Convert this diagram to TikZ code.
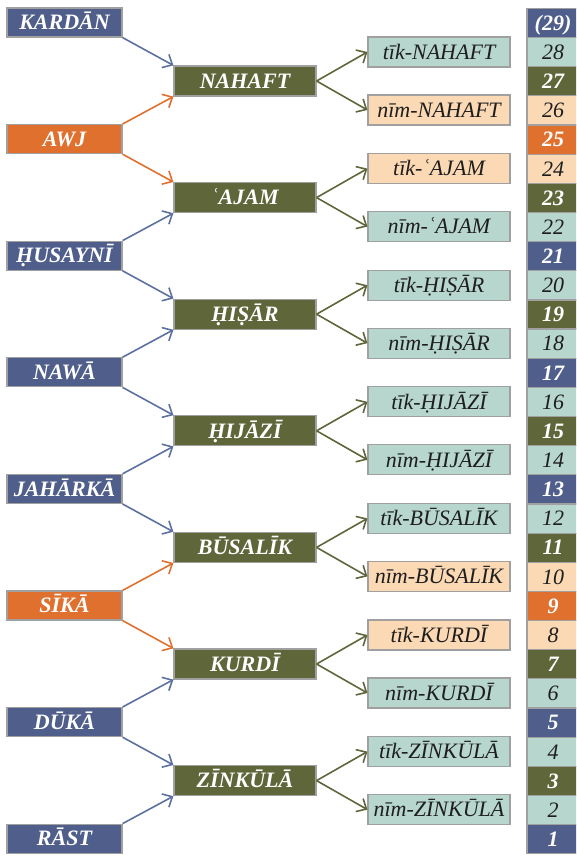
\documentclass[tikz,border=0pt]{standalone}
\usepackage{fontspec}
\setmainfont{Liberation Serif}
\usetikzlibrary{arrows.meta}
\definecolor{cblue}{RGB}{79,94,138}
\definecolor{cbluearr}{RGB}{92,112,162}
\definecolor{corange}{RGB}{224,112,46}
\definecolor{cgreen}{RGB}{94,102,58}
\definecolor{cteal}{RGB}{183,214,206}
\definecolor{cpeach}{RGB}{250,217,180}
\definecolor{cgray}{RGB}{160,160,160}
\definecolor{ctext}{RGB}{30,30,30}
\begin{document}
\begin{tikzpicture}[x=1pt,y=-1pt,
  box/.style={draw=cgray, line width=1.2pt, inner sep=0pt, text height=14.5pt, text depth=0pt},
  dark/.style={box, text=white, font=\fontsize{22}{26}\selectfont\bfseries\itshape},
  light/.style={box, text=ctext, font=\fontsize{22}{26}\selectfont\itshape},
  lbox/.style={minimum width=115pt, minimum height=29pt},
  mbox/.style={minimum width=142pt, minimum height=30pt},
  ncell/.style={minimum width=52pt, minimum height=29.15pt},
  conn/.style={line width=1.6pt, -{Straight Barb[length=8pt,width=15pt]}}]
\useasboundingbox (0,0) rectangle (576,857);
\clip (0,0) rectangle (576,857);
% left nodes
\foreach \i/\t/\c in {0/KARDĀN/cblue, 1/AWJ/corange, 2/ḤUSAYNĪ/cblue, 3/NAWĀ/cblue,
  4/JAHĀRKĀ/cblue, 5/SĪKĀ/corange, 6/DŪKĀ/cblue, 7/RĀST/cblue}
  \node[dark, lbox, fill=\c] (L\i) at (64.5, {22.5+116.6*\i}) {\t};
% middle nodes
\foreach \i/\t in {0/NAHAFT, 1/ʿAJAM, 2/ḤIṢĀR, 3/ḤIJĀZĪ, 4/BŪSALĪK, 5/KURDĪ, 6/ZĪNKŪLĀ}
  \node[dark, mbox, fill=cgreen] (M\i) at (245, {81+116.6*\i}) {\t};
% right nodes
\foreach \i/\t/\ct/\cb in {0/NAHAFT/cteal/cpeach, 1/ʿAJAM/cpeach/cteal, 2/ḤIṢĀR/cteal/cteal,
  3/ḤIJĀZĪ/cteal/cteal, 4/BŪSALĪK/cteal/cpeach, 5/KURDĪ/cpeach/cteal, 6/ZĪNKŪLĀ/cteal/cteal}{
  \node[light, mbox, fill=\ct] (T\i) at (439, {52+116.6*\i}) {tīk-\t};
  \node[light, mbox, fill=\cb] (B\i) at (439, {110+116.6*\i}) {nīm-\t};
}
% connectors left -> middle
\foreach \i/\j/\ca/\cb in {0/1/cbluearr/corange, 1/2/corange/cbluearr, 2/3/cbluearr/cbluearr,
  3/4/cbluearr/cbluearr, 4/5/cbluearr/corange, 5/6/corange/cbluearr, 6/7/cbluearr/cbluearr}{
  \draw[conn, draw=\ca] (L\i.south east) -- (M\i.north west);
  \draw[conn, draw=\cb] (L\j.north east) -- (M\i.south west);
}
% connectors middle -> right
\foreach \i in {0,...,6}{
  \draw[conn, draw=cgreen] (M\i.east) -- (T\i.west);
  \draw[conn, draw=cgreen] (M\i.east) -- (B\i.west);
}
% number column
\foreach \n/\c in {29/cblue, 27/cgreen, 25/corange, 23/cgreen, 21/cblue, 19/cgreen, 17/cblue,
  15/cgreen, 13/cblue, 11/cgreen, 9/corange, 7/cgreen, 5/cblue, 3/cgreen, 1/cblue}
  \node[dark, ncell, fill=\c] (N\n) at (553, {23+(29-\n)*29.15}) {\ifnum\n=29 (29)\else\n\fi};
\foreach \n/\c in {28/cteal, 26/cpeach, 24/cpeach, 22/cteal, 20/cteal, 18/cteal, 16/cteal,
  14/cteal, 12/cteal, 10/cpeach, 8/cpeach, 6/cteal, 4/cteal, 2/cteal}
  \node[light, ncell, fill=\c] (N\n) at (553, {23+(29-\n)*29.15}) {\n};
\end{tikzpicture}
\end{document}
